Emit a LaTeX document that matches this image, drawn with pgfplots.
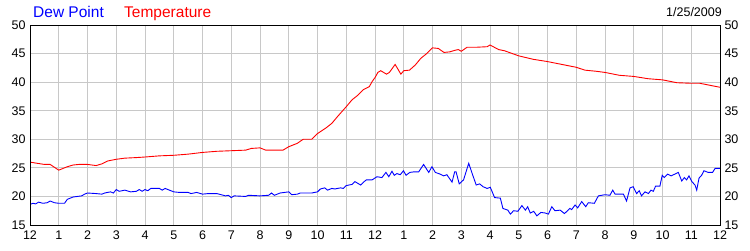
\documentclass[border=0pt]{standalone}
\usepackage{pgfplots}
\pgfplotsset{compat=1.18}
\usepackage{fontspec}
\setmainfont{Liberation Sans}
\definecolor{gridgray}{RGB}{200,200,200}
\definecolor{dewblue}{RGB}{0,0,255}
\definecolor{tempred}{RGB}{255,0,0}
\pgfplotsset{
  base/.style={
    at={(30pt,25pt)}, anchor=south west,
    scale only axis, width=690pt, height=200pt,
    xmin=0, xmax=24, ymin=15, ymax=50,
    xtick={0,1,...,24},
    ytick={15,20,25,30,35,40,45,50},
    tick style={draw=none},
    axis line style={black, line width=0.9pt},
    ticklabel style={font=\fontsize{12.5}{13}\selectfont},
    /pgf/number format/assume math mode=true,
  }
}
\begin{document}
\begin{tikzpicture}[x=1pt,y=1pt]
\useasboundingbox (0,0) rectangle (750,250);
\begin{axis}[base,
  grid=major, major grid style={color=gridgray, line width=0.9pt},
  xticklabels={12,1,2,3,4,5,6,7,8,9,10,11,12,1,2,3,4,5,6,7,8,9,10,11,12},
  xticklabel style={yshift=-2pt},
  yticklabel style={xshift=-1pt},
]
\addplot[tempred, line width=0.9pt] coordinates {
(0,26.0) (0.5,25.6) (0.7,25.6) (1.0,24.6) (1.3,25.2) (1.5,25.5) (1.7,25.6) (2.0,25.6)
(2.3,25.4) (2.5,25.7) (2.7,26.2) (3.0,26.5) (3.3,26.7) (3.7,26.8) (4.0,26.9) (4.5,27.1)
(5.0,27.2) (5.5,27.4) (6.0,27.7) (6.5,27.9) (7.0,28.0) (7.5,28.1) (7.7,28.4) (8.0,28.5)
(8.2,28.1) (8.8,28.1) (9.0,28.7) (9.3,29.3) (9.5,30.0) (9.8,30.0) (10.0,31.0) (10.3,32.0)
(10.5,32.8) (10.7,34.0) (11.0,35.7) (11.2,36.9) (11.4,37.7) (11.6,38.7) (11.8,39.2)
(11.9,40.1) (12.0,40.8) (12.1,41.7) (12.2,42.0) (12.4,41.4) (12.5,41.7) (12.7,43.1)
(12.9,41.4) (13.0,42.0) (13.2,42.1) (13.4,43.0) (13.6,44.2) (13.8,45.0) (14.0,46.0)
(14.2,45.9) (14.4,45.2) (14.6,45.3) (14.8,45.6) (14.9,45.7) (15.0,45.4) (15.2,46.1)
(15.5,46.1) (15.9,46.2) (16.0,46.5) (16.3,45.7) (16.5,45.5) (17.0,44.6) (17.5,44.0)
(18.0,43.6) (18.5,43.1) (19.0,42.6) (19.3,42.1) (19.7,41.9) (20.0,41.7) (20.5,41.2)
(21.0,41.0) (21.5,40.6) (22.0,40.4) (22.5,39.9) (23.0,39.8) (23.3,39.8) (23.6,39.5) (24.0,39.1)
};
\addplot[dewblue, line width=0.9pt] coordinates {
(0,18.6) (0.1,18.8) (0.2,18.7) (0.3,19.0) (0.45,18.8) (0.6,18.9) (0.7,19.2) (0.85,18.9)
(1.0,18.8) (1.2,18.8) (1.3,19.5) (1.5,19.9) (1.8,20.1) (1.9,20.4) (2.0,20.6) (2.3,20.5)
(2.5,20.4) (2.6,20.6) (2.8,20.8) (2.9,20.6) (3.0,21.2) (3.1,20.9) (3.3,21.1) (3.5,20.8)
(3.7,20.9) (3.8,21.2) (3.9,20.9) (4.0,21.2) (4.1,21.0) (4.2,21.4) (4.5,21.4) (4.6,21.1)
(4.7,21.4) (5.0,20.8) (5.2,20.7) (5.5,20.7) (5.6,20.5) (5.8,20.7) (6.0,20.4) (6.2,20.5)
(6.5,20.5) (6.8,20.1) (6.9,20.2) (7.0,19.8) (7.1,20.1) (7.5,20.0) (7.6,20.2) (8.0,20.1)
(8.3,20.2) (8.4,20.6) (8.5,20.2) (8.7,20.6) (9.0,20.8) (9.1,20.3) (9.3,20.4) (9.4,20.6)
(9.8,20.6) (10.0,20.8) (10.1,21.3) (10.25,21.5) (10.35,21.1) (10.5,21.4) (10.6,21.3)
(10.8,21.5) (10.9,21.4) (11.0,21.9) (11.2,22.1) (11.3,22.6) (11.5,22.0) (11.6,22.5)
(11.7,22.9) (11.9,22.9) (12.07,23.45) (12.24,23.3) (12.38,24.2) (12.48,23.45) (12.59,24.4)
(12.67,23.7) (12.76,24.0) (12.88,23.8) (12.99,24.5) (13.08,23.7) (13.21,24.2) (13.35,24.3)
(13.52,24.3) (13.69,25.6) (13.87,24.2) (13.98,25.2) (14.10,24.2) (14.27,23.9) (14.39,23.6)
(14.50,23.8) (14.68,22.5) (14.77,24.3) (14.82,24.3) (14.93,22.2) (15.08,22.9) (15.26,25.8)
(15.38,24.0) (15.52,22.0) (15.64,22.2) (15.76,21.7) (15.90,21.4) (16.01,21.6) (16.16,19.8)
(16.36,19.7) (16.45,17.9) (16.62,17.6) (16.71,16.9) (16.82,17.5) (16.97,17.4) (17.11,18.4)
(17.23,17.6) (17.31,18.2) (17.40,17.1) (17.52,17.4) (17.63,16.6) (17.77,17.2) (17.92,17.1)
(18.03,16.9) (18.15,18.2) (18.26,17.5) (18.44,17.6) (18.59,17.0) (18.78,17.9) (18.84,17.7)
(18.96,18.5) (19.05,18.0) (19.19,19.1) (19.33,18.2) (19.42,18.9) (19.63,18.8) (19.77,20.1)
(20.00,20.3) (20.17,20.2) (20.27,21.1) (20.35,20.4) (20.64,20.4) (20.75,19.2) (20.87,21.5)
(20.98,21.7) (21.10,20.5) (21.19,21.0) (21.27,20.1) (21.39,20.8) (21.51,20.5) (21.60,21.1)
(21.68,20.9) (21.76,21.8) (21.91,21.8) (21.99,23.7) (22.06,23.3) (22.18,23.9) (22.30,23.6)
(22.55,24.2) (22.67,22.7) (22.76,23.3) (22.84,22.9) (22.92,23.6) (23.02,22.6) (23.13,22.0)
(23.19,21.1) (23.27,23.2) (23.36,23.7) (23.44,24.5) (23.59,24.2) (23.74,24.2) (23.83,24.9) (24.0,24.9)
};
\end{axis}
\begin{axis}[base,
  xticklabels={},
  yticklabel pos=right,
  yticklabel style={xshift=1pt},
]
\end{axis}
\node[anchor=base west, inner sep=0pt, text=dewblue, font=\fontsize{15.5}{16}\selectfont] at (33,232.5) {Dew Point};
\node[anchor=base west, inner sep=0pt, text=tempred, font=\fontsize{15.5}{16}\selectfont] at (124,232.5) {Temperature};
\node[anchor=base east, inner sep=0pt, font=\fontsize{12.5}{13}\selectfont] at (722,234) {1/25/2009};
\end{tikzpicture}
\end{document}
